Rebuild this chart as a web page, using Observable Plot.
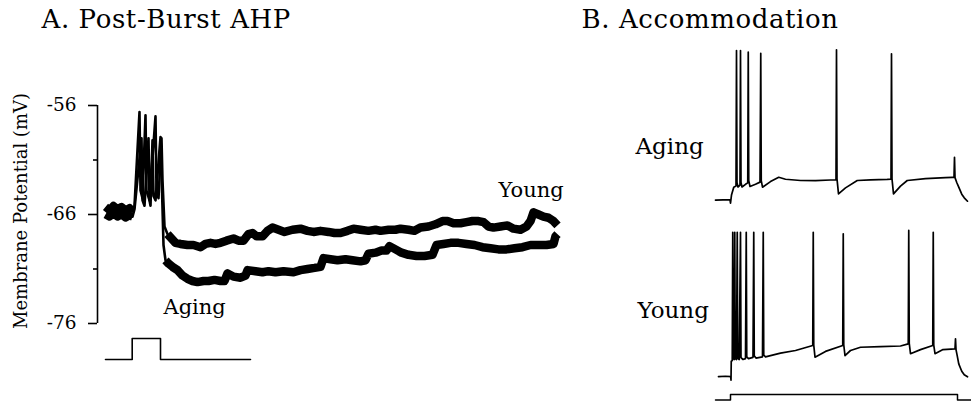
<!DOCTYPE html>
<html>
<head>
<meta charset="utf-8">
<script src="https://cdn.jsdelivr.net/npm/d3@7"></script>
<script src="https://cdn.jsdelivr.net/npm/@observablehq/plot@0.6"></script>
<style>
  html, body { margin: 0; padding: 0; background: #fff; }
  #fig { position: relative; width: 971px; height: 402px; background: #fff; font-family: "DejaVu Serif", serif; color: #000; overflow: hidden; }
  #fig > div.p { position: absolute; }
  .title { position: absolute; font-size: 26px; line-height: 26px; letter-spacing: 0.6px; white-space: nowrap; }
  .ylab { position: absolute; left: 0; top: 0; font-size: 18px; line-height: 18px; white-space: nowrap; transform-origin: 0 0; }
</style>
</head>
<body>
<div id="fig"></div>
<script>
// ---------- Panel A: Post-Burst AHP (time in s, membrane potential in mV) ----------
const youngPreA = [[0.00,-65.3],[0.04,-65.6],[0.08,-65.2],[0.12,-65.5],[0.16,-65.3],[0.20,-65.6],[0.24,-65.4],[0.27,-65.7]];
const youngBurstA = [[0.27,-65.7],[0.29,-65.2],[0.34,-56.6],[0.35,-63.8],[0.37,-64.5],[0.40,-56.9],[0.41,-63.8],[0.44,-64.7],[0.50,-57.0],[0.51,-63.8],[0.53,-64.5],[0.56,-59.0],[0.57,-62.9],[0.59,-67.1],[0.62,-67.8]];
const youngPostA = [[0.62,-67.8],[0.65,-68.1],[0.70,-68.6],[0.75,-68.7],[0.82,-68.8],[0.88,-68.8],[0.95,-69.0],[1.00,-68.7],[1.05,-68.6],[1.10,-68.7],[1.15,-68.6],[1.21,-68.4],[1.28,-68.2],[1.33,-68.4],[1.38,-68.4],[1.43,-67.8],[1.47,-67.7],[1.51,-68.0],[1.57,-68.0],[1.62,-67.5],[1.67,-67.2],[1.73,-67.4],[1.79,-67.6],[1.87,-67.4],[1.95,-67.3],[2.02,-67.5],[2.08,-67.6],[2.15,-67.5],[2.23,-67.6],[2.29,-67.7],[2.35,-67.7],[2.42,-67.5],[2.48,-67.3],[2.55,-67.4],[2.63,-67.5],[2.70,-67.4],[2.75,-67.5],[2.83,-67.4],[2.90,-67.4],[2.95,-67.3],[3.03,-67.4],[3.09,-67.5],[3.15,-67.2],[3.23,-67.1],[3.30,-66.9],[3.37,-66.6],[3.42,-66.6],[3.48,-66.8],[3.55,-66.8],[3.61,-66.7],[3.67,-66.6],[3.73,-66.6],[3.78,-66.7],[3.83,-67.1],[3.88,-67.2],[3.95,-67.1],[4.02,-67.0],[4.08,-67.3],[4.15,-67.4],[4.21,-67.1],[4.25,-66.6],[4.28,-65.8],[4.33,-66.0],[4.38,-66.2],[4.43,-66.3],[4.48,-66.6],[4.52,-67.0]];

const agingPreA = [[0.00,-66.0],[0.04,-66.2],[0.08,-65.9],[0.12,-66.2],[0.16,-66.0],[0.20,-66.3],[0.24,-66.1],[0.27,-66.2]];
const agingBurstA = [[0.27,-66.2],[0.29,-65.5],[0.36,-59.0],[0.37,-64.7],[0.39,-65.2],[0.43,-59.0],[0.44,-64.7],[0.45,-65.2],[0.47,-59.2],[0.48,-64.3],[0.50,-64.7],[0.55,-58.9],[0.56,-62.0],[0.58,-68.8],[0.60,-70.2]];
const agingPostA = [[0.60,-70.2],[0.63,-70.5],[0.67,-70.8],[0.72,-71.1],[0.77,-71.6],[0.82,-71.9],[0.87,-72.1],[0.92,-72.2],[0.98,-72.1],[1.03,-72.1],[1.09,-72.0],[1.15,-72.1],[1.19,-72.1],[1.22,-71.4],[1.28,-71.7],[1.35,-71.8],[1.40,-71.6],[1.42,-71.1],[1.50,-71.2],[1.57,-71.3],[1.63,-71.2],[1.70,-71.3],[1.78,-71.2],[1.88,-71.3],[1.95,-71.1],[2.02,-71.0],[2.09,-70.9],[2.15,-70.8],[2.18,-70.0],[2.25,-70.1],[2.32,-70.2],[2.40,-70.1],[2.47,-70.2],[2.55,-70.3],[2.60,-70.2],[2.63,-69.6],[2.70,-69.5],[2.76,-69.3],[2.81,-69.3],[2.84,-68.9],[2.90,-69.2],[2.96,-69.5],[3.03,-69.7],[3.11,-69.8],[3.19,-69.8],[3.27,-69.7],[3.31,-68.8],[3.38,-68.7],[3.45,-68.6],[3.53,-68.6],[3.61,-68.7],[3.69,-68.8],[3.77,-69.0],[3.85,-69.1],[3.93,-69.2],[4.01,-69.2],[4.09,-69.1],[4.17,-69.0],[4.25,-68.8],[4.33,-68.8],[4.41,-68.8],[4.48,-68.7],[4.50,-68.0],[4.52,-67.8]];

// current step (relative amplitude)
const stimA = [[0.00,0],[0.267,0],[0.267,1],[0.55,1],[0.55,0],[1.45,0]];

const majorTicksA = [-56, -66, -76];
const majorTickLabelsA = ["-56", "-66", "-76"];
const minorTicksA = [-61, -71];
const labelsA = [{text: "Young", t: 3.93, v: -64.35}, {text: "Aging", t: 0.58, v: -75.1}];
const yLabelA = "Membrane Potential (mV)";
const titleA = "A. Post-Burst AHP";

// ---------- Panel B: Accommodation (time in ms, mV) ----------
const agingB = [[-60,-64.8],[-30,-64.6],[-2,-64.7],[0,-66.5],[4,-62],[13,-57.6],[22,-57],[24,18.3],[26,-55],[30,-57.5],[38,-56.5],[40,18.3],[42,-55],[46,-57.5],[60,-56],[69,-55.2],[71,17.4],[73,-54],[78,-57.2],[100,-56],[118,-54.8],[121,16.8],[123,-54],[128,-57.6],[160,-54.5],[193,-52.1],[220,-53.2],[280,-53.9],[340,-54],[400,-53.6],[422,-53.5],[424,18.7],[426,-53],[432,-61.3],[460,-58],[507,-53.9],[560,-53.5],[627,-53.3],[642,-53.2],[644,16.5],[646,-53],[652,-61.3],[680,-57],[707,-53.9],[780,-52.8],[860,-52.3],[887,-52.1],[894,-52.1],[896,-41],[898,-52.3],[905,-55],[913,-57.6],[925,-61.5],[935,-63.5],[948,-65.4]];
const youngB = [[-48,-64.5],[-20,-64.3],[1,-64.5],[2,-66.5],[3,-56],[7,-55.6],[9,15.7],[11,-54.5],[15,-55],[17,15.7],[19,-54.5],[24,-55],[27,15.7],[29,-54.3],[35,-55],[40,15.7],[42,-54],[50,-55],[60,-54.5],[63,15.7],[65,-53.5],[72,-54.5],[90,-53.8],[93,15.7],[95,-53],[102,-54.2],[128,-53.5],[131,15.7],[133,-52.5],[140,-53.5],[200,-51.5],[260,-50],[329,-47.2],[331,15.7],[333,-47],[338,-53.7],[380,-50.5],[449,-47.2],[451,14.8],[453,-46.8],[458,-52.8],[480,-50],[520,-48.2],[600,-47.8],[680,-47.5],[711,-46.3],[713,16.7],[715,-46],[720,-51.8],[760,-49.5],[809,-47.2],[811,15.7],[813,-47],[818,-51.8],[850,-49.5],[898,-49.1],[900,-43.5],[902,-49.5],[907,-53],[913,-57.4],[925,-61.5],[935,-63.5],[948,-64.6]];
const stimB = [[-60,0],[0,0],[0,1],[908,1],[908,0],[964,0]];
const labelsBAging = [{text: "Aging", t: -380, v: -38.9}];
const labelsBYoung = [{text: "Young", t: -372, v: -31.7}];
const titleB = "B. Accommodation";

// ---------- build ----------
const toObj = arr => arr.map(([t, v]) => ({t, v}));
const fig = document.getElementById("fig");
const baseStyle = {background: "transparent", overflow: "visible", fontFamily: "DejaVu Serif, serif", color: "#000"};

function place(svg, left, top) {
  const d = document.createElement("div");
  d.className = "p";
  d.style.left = left + "px";
  d.style.top = top + "px";
  d.appendChild(svg);
  fig.appendChild(d);
}

const xDomainA = [-0.08, 4.6];
const yDomainA = [-76, -56];

const plotA = Plot.plot({
  width: 600, height: 402,
  marginLeft: 97, marginRight: 35, marginTop: 105, marginBottom: 79,
  x: {domain: xDomainA, axis: null},
  y: {domain: yDomainA, label: null},
  style: baseStyle,
  marks: [
    Plot.ruleX([xDomainA[0]], {y1: yDomainA[0], y2: yDomainA[1], stroke: "#000", strokeWidth: 1.6}),
    Plot.axisY({ticks: majorTicksA, tickSize: 9, tickPadding: 12, fontSize: 18.5, label: null, stroke: "#000", strokeWidth: 1.6, fill: "#000",
      tickFormat: d => majorTickLabelsA[majorTicksA.indexOf(d)]}),
    Plot.axisY({ticks: minorTicksA, tickSize: 4, label: null, stroke: "#000", strokeWidth: 1.6, tickFormat: () => ""}),
    Plot.line(toObj(youngPreA), {x: "t", y: "v", stroke: "#000", strokeWidth: 8, strokeLinejoin: "round", strokeLinecap: "butt"}),
    Plot.line(toObj(agingPreA), {x: "t", y: "v", stroke: "#000", strokeWidth: 8, strokeLinejoin: "round", strokeLinecap: "butt"}),
    Plot.line(toObj(youngBurstA), {x: "t", y: "v", stroke: "#000", strokeWidth: 2.6, strokeLinejoin: "round"}),
    Plot.line(toObj(agingBurstA), {x: "t", y: "v", stroke: "#000", strokeWidth: 2.6, strokeLinejoin: "round"}),
    Plot.line(toObj(youngPostA), {x: "t", y: "v", stroke: "#000", strokeWidth: 8.5, strokeLinejoin: "round", strokeLinecap: "butt"}),
    Plot.line(toObj(agingPostA), {x: "t", y: "v", stroke: "#000", strokeWidth: 8.5, strokeLinejoin: "round", strokeLinecap: "butt"}),
    Plot.text(labelsA, {x: "t", y: "v", text: "text", textAnchor: "start", lineAnchor: "bottom", fontSize: 21, fill: "#000"})
  ]
});
place(plotA, 0, 0);

const stimPlotA = Plot.plot({
  width: 600, height: 40,
  marginLeft: 97, marginRight: 35, marginTop: 8, marginBottom: 11,
  x: {domain: xDomainA, axis: null},
  y: {domain: [0, 1], axis: null},
  style: baseStyle,
  marks: [Plot.line(toObj(stimA), {x: "t", y: "v", stroke: "#000", strokeWidth: 1.6})]
});
place(stimPlotA, 0, 330);

const xDomainB = [-60, 964];
const yDomainB = [-70, 25];

const plotBAging = Plot.plot({
  width: 371, height: 191,
  marginLeft: 115, marginRight: 0, marginTop: 10, marginBottom: 10,
  x: {domain: xDomainB, axis: null},
  y: {domain: yDomainB, axis: null},
  style: baseStyle,
  marks: [
    Plot.line(toObj(agingB), {x: "t", y: "v", stroke: "#000", strokeWidth: 1.7, strokeLinejoin: "round"}),
    Plot.text(labelsBAging, {x: "t", y: "v", text: "text", textAnchor: "start", lineAnchor: "bottom", fontSize: 23, fill: "#000"})
  ]
});
place(plotBAging, 600, 28);

const plotBYoung = Plot.plot({
  width: 371, height: 191,
  marginLeft: 115, marginRight: 0, marginTop: 10, marginBottom: 10,
  x: {domain: xDomainB, axis: null},
  y: {domain: yDomainB, axis: null},
  style: baseStyle,
  marks: [
    Plot.line(toObj(youngB), {x: "t", y: "v", stroke: "#000", strokeWidth: 1.7, strokeLinejoin: "round"}),
    Plot.text(labelsBYoung, {x: "t", y: "v", text: "text", textAnchor: "start", lineAnchor: "bottom", fontSize: 23, fill: "#000"})
  ]
});
place(plotBYoung, 600, 205);

const stimPlotB = Plot.plot({
  width: 371, height: 14,
  marginLeft: 115, marginRight: 0, marginTop: 6, marginBottom: 2.5,
  x: {domain: xDomainB, axis: null},
  y: {domain: [0, 1], axis: null},
  style: baseStyle,
  marks: [Plot.line(toObj(stimB), {x: "t", y: "v", stroke: "#000", strokeWidth: 1.5})]
});
place(stimPlotB, 600, 388);

// titles and y-axis label
function addText(cls, text, css) {
  const d = document.createElement("div");
  d.className = cls;
  d.textContent = text;
  Object.assign(d.style, css);
  fig.appendChild(d);
}
addText("title", titleA, {left: "41.5px", top: "6.3px"});
addText("title", titleB, {left: "581.5px", top: "6.3px"});
addText("ylab", yLabelA, {transform: "translate(27.5px, 211px) rotate(-90deg) translate(-50%, -15.2px)"});
</script>
</body>
</html>
